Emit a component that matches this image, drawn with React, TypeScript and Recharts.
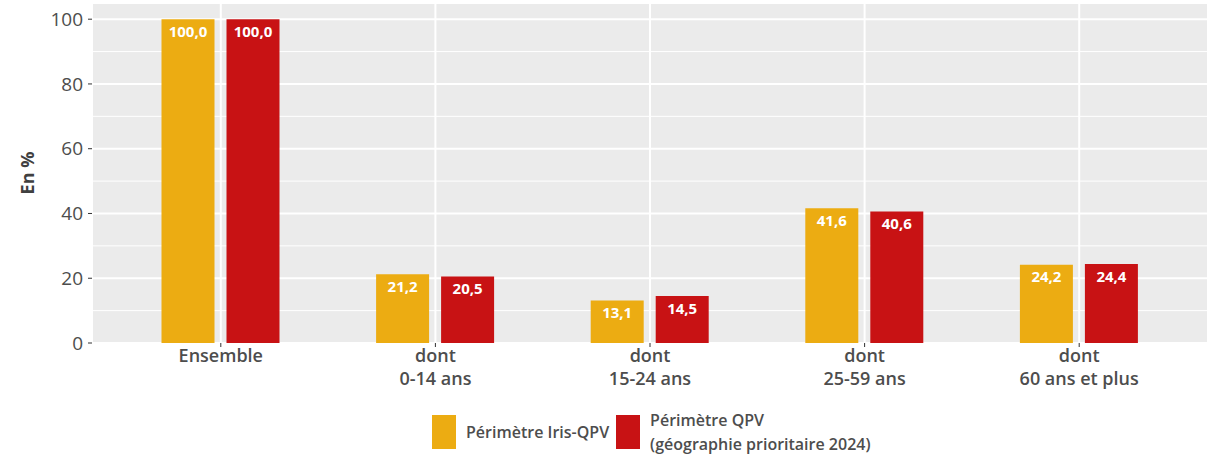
import { BarChart, Bar, XAxis, YAxis, CartesianGrid, Legend, LabelList } from 'recharts'

const categories = ['Ensemble', 'dont\n0-14 ans', 'dont\n15-24 ans', 'dont\n25-59 ans', 'dont\n60 ans et plus']
const irisQpv = [100.0, 21.2, 13.1, 41.6, 24.2]
const qpv2024 = [100.0, 20.5, 14.5, 40.6, 24.4]
const yTicks = [0, 20, 40, 60, 80, 100]
const yMinor = [10, 30, 50, 70, 90]

const SERIES = [
  { key: 'iris', name: 'Périmètre Iris-QPV', color: '#ECAC12' },
  { key: 'qpv', name: 'Périmètre QPV\n(géographie prioritaire 2024)', color: '#C81214' },
]

const FONT = '"Open Sans", "DejaVu Sans", sans-serif'
const TEXT = '#4D4D4D'

const data = categories.map((name, i) => ({ name, iris: irisQpv[i], qpv: qpv2024[i] }))

const fmt = (v: number) => v.toFixed(1).replace('.', ',')

function CategoryTick({ x, y, payload }: any) {
  const lines = String(payload.value).split('\n')
  return (
    <text x={x} y={y} textAnchor="middle" fill={TEXT} fontFamily={FONT} fontSize={18} fontWeight={600}>
      {lines.map((l, i) => (
        <tspan key={i} x={x} dy={i === 0 ? 13 : 23}>{l}</tspan>
      ))}
    </text>
  )
}

function LegendBox() {
  return (
    <div style={{ height: 55, display: 'flex', alignItems: 'center', paddingLeft: 432, paddingTop: 9, boxSizing: 'border-box', fontFamily: FONT, fontSize: 16, fontWeight: 600, color: TEXT }}>
      {SERIES.map(s => (
        <div key={s.key} style={{ display: 'flex', alignItems: 'center', marginRight: 7 }}>
          <div style={{ width: 24, height: 34, background: s.color, marginRight: 10 }} />
          <div style={{ whiteSpace: 'pre', lineHeight: '24px', textAlign: 'left' }}>{s.name}</div>
        </div>
      ))}
    </div>
  )
}

export default function App() {
  return (
    <div style={{ position: 'absolute', left: 0, top: 0, background: '#fff' }}>
      <BarChart
        width={1208}
        height={455}
        data={data}
        margin={{ top: 3, right: 0, bottom: 0, left: 0 }}
        barSize={53}
        barGap={12}
      >
        <CartesianGrid fill="#EBEBEB" stroke="#fff" strokeWidth={1} horizontalValues={yMinor} vertical={false} />
        <CartesianGrid stroke="#fff" strokeWidth={2} fillOpacity={0} />
        <XAxis
          dataKey="name"
          height={57}
          padding={{ left: 21.5, right: 21.5 }}
          axisLine={false}
          tickLine={{ stroke: '#333' }}
          tickSize={4}
          interval={0}
          tick={<CategoryTick />}
        />
        <YAxis
          width={92}
          domain={[0, 105]}
          ticks={yTicks}
          axisLine={false}
          tickLine={{ stroke: '#333' }}
          tickSize={4}
          tickMargin={5}
          tick={{ fontSize: 19, fill: TEXT, fontFamily: FONT }}
          label={{ value: 'En %', angle: -90, position: 'insideLeft', offset: 28, style: { fontSize: 18, fontWeight: 700, fill: '#404040', fontFamily: FONT, textAnchor: 'middle' } }}
        />
        <Legend verticalAlign="bottom" content={<LegendBox />} wrapperStyle={{ left: 0, width: 1208 }} />
        {SERIES.map(s => (
          <Bar key={s.key} dataKey={s.key} name={s.name} fill={s.color} isAnimationActive={false}>
            <LabelList dataKey={s.key} position="insideTop" offset={7} formatter={(v: any) => fmt(Number(v))} fill="#fff" fontSize={15} fontWeight={700} fontFamily={FONT} />
          </Bar>
        ))}
      </BarChart>
    </div>
  )
}
